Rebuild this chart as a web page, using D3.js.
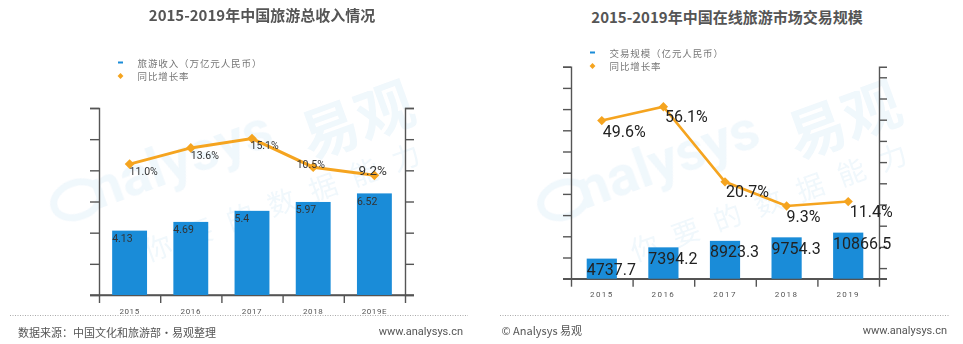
<!DOCTYPE html>
<html><head><meta charset="utf-8">
<script src="https://cdn.jsdelivr.net/npm/d3@7"></script>
<style>
html,body{margin:0;padding:0;background:#fff;}
svg{display:block;font-family:Roboto,"Noto Sans CJK SC",sans-serif;}
</style></head>
<body>
<svg id="chart" width="963" height="344"></svg>
<script>
// ---------- data ----------
const incomeTitle = "2015-2019年中国旅游总收入情况";
const incomeYears = ["2015", "2016", "2017", "2018", "2019E"];
const incomeValues = [4.13, 4.69, 5.4, 5.97, 6.52];
const incomeGrowth = [11.0, 13.6, 15.1, 10.5, 9.2];
const incomeLegend = ["旅游收入（万亿元人民币）", "同比增长率"];
const incomeSource = "数据来源：中国文化和旅游部·易观整理";

const onlineTitle = "2015-2019年中国在线旅游市场交易规模";
const onlineYears = ["2015", "2016", "2017", "2018", "2019"];
const onlineValues = [4737.7, 7394.2, 8923.3, 9754.3, 10866.5];
const onlineGrowth = [49.6, 56.1, 20.7, 9.3, 11.4];
const onlineLegend = ["交易规模（亿元人民币）", "同比增长率"];
const onlineSource = "© Analysys 易观";
const siteText = "www.analysys.cn";
const wmWords = ["nalysys", "易观", "你要的数据能力"];

// ---------- style ----------
const BAR = "#1a8cd8", LINE = "#f5a41f";
const svg = d3.select("#chart");

function watermark(g, cx) {
  const w = g.append("g").attr("fill", "#2a8fd0").attr("opacity", 0.07);
  const s = w.append("g").attr("transform", `translate(${cx - 120},212) rotate(-20)`);
  s.append("ellipse").attr("cx", -8).attr("cy", -16).attr("rx", 24).attr("ry", 17)
    .attr("fill", "none").attr("stroke", "#2a8fd0").attr("stroke-width", 7);
  s.append("text").attr("x", 8).attr("font-size", 56).attr("font-weight", "bold").text(wmWords[0]);
  w.append("text").attr("transform", `translate(${cx + 100},160) rotate(-20)`)
    .attr("font-size", 58).attr("font-weight", "bold").attr("font-family", "Noto Sans CJK SC").text(wmWords[1]);
  w.append("text").attr("transform", `translate(${cx - 62},262) rotate(-20)`)
    .attr("font-size", 28).attr("letter-spacing", 16).attr("font-family", "Noto Sans CJK SC")
    .text(wmWords[2]);
}

function drawChart(cfg) {
  const g = svg.append("g");
  watermark(g, cfg.wmx);

  const x = d3.scaleBand().domain(cfg.cats).range([cfg.x0, cfg.x1]).padding(0);
  const yBar = d3.scaleLinear().domain([0, cfg.barMax]).range([cfg.yb, cfg.yt]);
  const yLine = d3.scaleLinear().domain(cfg.lineDom).range([cfg.yb, cfg.yt]);
  const bw = x.bandwidth() * cfg.barRatio;

  // title
  g.append("text").attr("x", cfg.titleX).attr("y", cfg.titleY).attr("text-anchor", "middle")
    .attr("dominant-baseline", "central").attr("font-size", 15).attr("font-weight", "bold")
    .attr("fill", "#555").attr("font-family", "'Noto Sans CJK SC',sans-serif").text(cfg.title);

  // legend
  const lg = g.append("g").attr("font-size", 9.5).attr("fill", "#777").attr("letter-spacing", 0.9)
    .attr("font-family", "'Noto Sans CJK SC',sans-serif");
  lg.append("rect").attr("x", cfg.legX - 2.5).attr("y", cfg.legY - 1).attr("width", 5).attr("height", 2).attr("fill", BAR);
  lg.append("path").attr("d", d3.symbol(d3.symbolDiamond2, 22)()).attr("fill", LINE)
    .attr("transform", `translate(${cfg.legX},${cfg.legY + cfg.legGap})`);
  cfg.legend.forEach((t, i) => lg.append("text").attr("x", cfg.legX + cfg.legTx)
    .attr("y", cfg.legY + i * cfg.legGap).attr("dominant-baseline", "central").text(t));

  // axes
  const axCol = "#555";
  const la = g.append("g").attr("transform", `translate(${cfg.x0},0)`)
    .call(d3.axisLeft(yBar).ticks(cfg.barTicks).tickSize(cfg.tick).tickSizeOuter(cfg.tick).tickFormat(""));
  const ra = g.append("g").attr("transform", `translate(${cfg.x1},0)`)
    .call(d3.axisRight(yLine).ticks(cfg.barTicks).tickSize(cfg.tick).tickSizeOuter(cfg.tick).tickFormat(""));
  const edge = d3.scaleLinear().domain([0, cfg.cats.length]).range([cfg.x0, cfg.x1]);
  const xa = g.append("g").attr("transform", `translate(0,${cfg.yb})`)
    .call(d3.axisBottom(edge).ticks(cfg.cats.length).tickSize(8).tickSizeOuter(0).tickFormat(""));
  [la, ra, xa].forEach(a => {
    a.selectAll("path,line").attr("stroke", axCol).attr("stroke-width", 1.4);
  });
  g.append("line").attr("x1", cfg.x0 - cfg.tick).attr("x2", cfg.x1 + cfg.tick)
    .attr("y1", cfg.yb).attr("y2", cfg.yb).attr("stroke", axCol).attr("stroke-width", 1.4);

  // category labels
  g.append("g").selectAll("text").data(cfg.cats).join("text")
    .attr("x", d => x(d) + x.bandwidth() / 2).attr("y", cfg.catY)
    .attr("text-anchor", "middle").attr("dominant-baseline", "central")
    .attr("font-size", 8).attr("letter-spacing", cfg.catSpacing).attr("fill", "#555").text(d => d);

  // bars
  g.append("g").selectAll("rect").data(cfg.values).join("rect")
    .attr("x", (d, i) => x(cfg.cats[i]) + (x.bandwidth() - bw) / 2)
    .attr("y", d => yBar(d)).attr("width", bw).attr("height", d => yBar(0) - yBar(d))
    .attr("fill", BAR);
  g.append("g").selectAll("text").data(cfg.values).join("text")
    .attr("x", (d, i) => x(cfg.cats[i]) + (x.bandwidth() - bw) / 2)
    .attr("y", d => yBar(d) + cfg.barLabDy).attr("dominant-baseline", "central")
    .attr("font-size", cfg.barLabSize).attr("fill", cfg.labCol).text(d => d);

  // line
  const px = i => x(cfg.cats[i]) + x.bandwidth() / 2;
  g.append("path").datum(cfg.growth)
    .attr("d", d3.line().x((d, i) => px(i)).y(d => yLine(d)))
    .attr("fill", "none").attr("stroke", LINE).attr("stroke-width", cfg.lineW);
  g.append("g").selectAll("path").data(cfg.growth).join("path")
    .attr("d", d3.symbol(d3.symbolDiamond2, cfg.markSize)())
    .attr("transform", (d, i) => `translate(${px(i)},${yLine(d)})`).attr("fill", LINE);
  g.append("g").selectAll("text").data(cfg.growth).join("text")
    .attr("x", (d, i) => px(i) + cfg.lineLabOff[i][0])
    .attr("y", (d, i) => yLine(d) + cfg.lineLabOff[i][1]).attr("dominant-baseline", "central")
    .attr("font-size", (d, i) => cfg.lineLabSize[i]).attr("fill", cfg.labCol)
    .text(d => d.toFixed(1) + "%");

  // footer
  g.append("line").attr("x1", cfg.fx0).attr("x2", cfg.fx1).attr("y1", 315.5).attr("y2", 315.5)
    .attr("stroke", "#aaa").attr("stroke-width", 1).attr("stroke-dasharray", "1,1.5");
  g.append("text").attr("x", cfg.fx0 + cfg.srcDx).attr("y", cfg.footY).attr("dominant-baseline", "central")
    .attr("font-size", 11).attr("fill", "#555").attr("font-family", "'Noto Sans CJK SC',sans-serif").text(cfg.source);
  g.append("text").attr("x", cfg.siteX).attr("y", cfg.footY).attr("dominant-baseline", "central")
    .attr("text-anchor", "end").attr("font-size", 11).attr("fill", "#555").text(siteText);
}

drawChart({
  title: incomeTitle, cats: incomeYears, values: incomeValues, growth: incomeGrowth,
  legend: incomeLegend, source: incomeSource,
  titleX: 262, titleY: 14, legX: 120.5, legY: 62.5, legGap: 13.5, legTx: 17,
  x0: 99, x1: 405, yb: 295, yt: 108, barMax: 12, barTicks: 6, lineDom: [-10, 20], tick: 9,
  barRatio: 0.57, barLabDy: 8, barLabSize: 10.5, labCol: "#333",
  lineW: 3, markSize: 60,
  lineLabOff: [[0, 7.5], [0, 7.7], [-1.5, 7], [-16.5, -2.5], [-16, -5]],
  lineLabSize: [10.5, 10.5, 10.5, 10.5, 13.5],
  catY: 311.5, catSpacing: 0.6,
  fx0: 10, fx1: 468, srcDx: 8, footY: 331.5, siteX: 463, wmx: 210
});

drawChart({
  title: onlineTitle, cats: onlineYears, values: onlineValues, growth: onlineGrowth,
  legend: onlineLegend, source: onlineSource,
  titleX: 727, titleY: 16.5, legX: 592.5, legY: 52.5, legGap: 13.5, legTx: 17,
  x0: 571, x1: 879, yb: 278.7, yt: 66.7, barMax: 50000, barTicks: 10, lineDom: [-25, 75], tick: 8,
  barRatio: 0.49, barLabDy: 10.7, barLabSize: 16, labCol: "#222",
  lineW: 2.6, markSize: 55,
  lineLabOff: [[1, 10.5], [1.5, 9.5], [1, 10], [0, 10.5], [1.5, 10]],
  lineLabSize: [16, 16, 16, 16, 16],
  catY: 294.3, catSpacing: 1.4,
  fx0: 500, fx1: 950, srcDx: 1.5, footY: 330, siteX: 947, wmx: 697
});
</script>
</body></html>
